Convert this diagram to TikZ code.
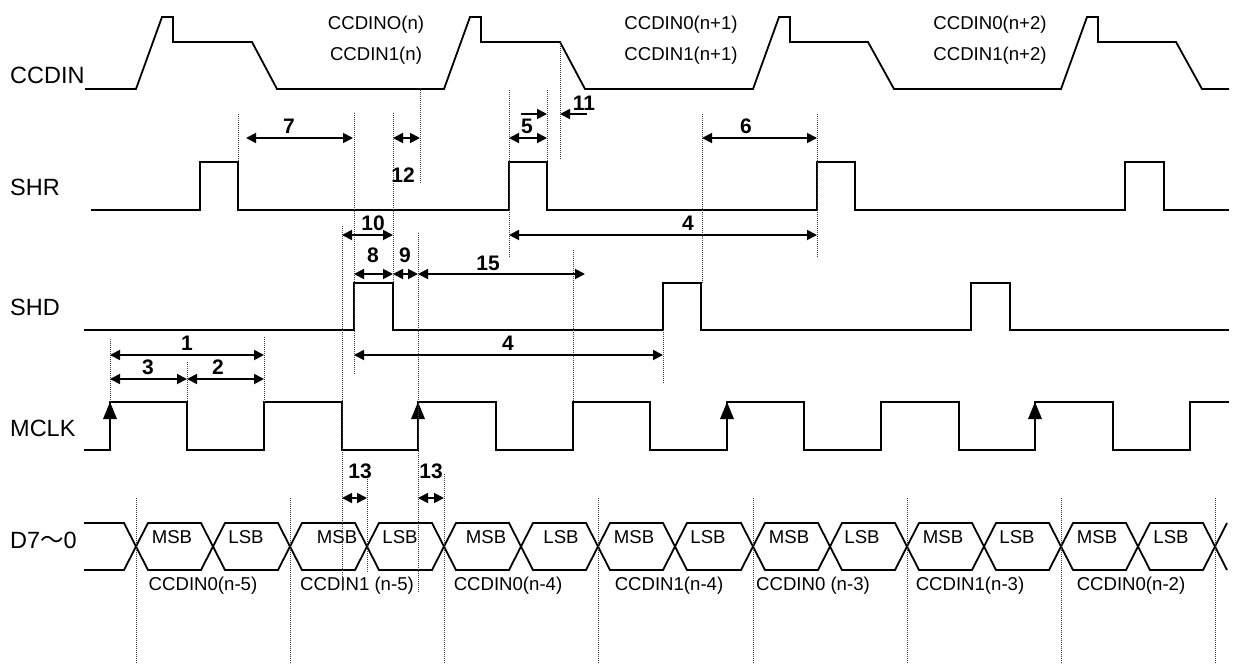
\documentclass[tikz,border=0pt]{standalone}
\usepackage{fontspec}
\setmainfont{Liberation Sans}
\newfontfamily\cjkfont{Noto Sans CJK SC}
\usetikzlibrary{arrows.meta}

\tikzset{
  wave/.style={line width=1.8pt, line join=miter},
  guide/.style={line width=0.7pt, dash pattern=on 1pt off 1pt, black!75},
  span/.style={line width=1.8pt, {Triangle[length=10pt,width=10pt]}-{Triangle[length=10pt,width=10pt]}},
  oneway/.style={line width=1.8pt, -{Triangle[length=10pt,width=10pt]}},
  signame/.style={font=\fontsize{23.5}{26}\selectfont, inner sep=0pt, anchor=base west},
  note/.style={font=\fontsize{18.6}{21}\selectfont, inner sep=0pt, anchor=base},
  num/.style={font=\fontsize{21}{24}\selectfont\bfseries, inner sep=0pt, anchor=base},
  edgemark/.style={fill=black}
}

\begin{document}
\begin{tikzpicture}[x=1pt,y=-1pt]
  \useasboundingbox (0,0) rectangle (1233,664);

  % signal names
  \node[signame] (ccdin) at (10,83.5) {CCDIN};
  \node[signame] (shr) at (10,195.5) {SHR};
  \node[signame] (shd) at (10,315.5) {SHD};
  \node[signame] (mclk) at (10,436.5) {MCLK};
  \node[signame] (dbus) at (10,548.5) {D7{\cjkfont ～}0};

  % CCDIN
  \draw[wave] (85,89) -- (136,89) -- (162,17) -- (173,17) -- (173,42) -- (252,42) -- (277,89)
    -- (444,89) -- (470,17) -- (481,17) -- (481,42) -- (560,42) -- (585,89)
    -- (753,89) -- (779,17) -- (790,17) -- (790,42) -- (868,42) -- (894,89)
    -- (1061,89) -- (1087,17) -- (1098,17) -- (1098,42) -- (1176,42) -- (1202,89) -- (1229,89);
  \node[note] (pix0a) at (376,29) {CCDINO(n)};
  \node[note] (pix1a) at (376,60) {CCDIN1(n)};
  \node[note] (pix0b) at (681,29) {CCDIN0(n+1)};
  \node[note] (pix1b) at (681,60) {CCDIN1(n+1)};
  \node[note] (pix0c) at (990,29) {CCDIN0(n+2)};
  \node[note] (pix1c) at (990,60) {CCDIN1(n+2)};

  % SHR
  \draw[wave] (91,210) -- (200,210) -- (200,162) -- (238,162) -- (238,210)
    -- (509,210) -- (509,162) -- (547,162) -- (547,210)
    -- (817,210) -- (817,162) -- (855,162) -- (855,210)
    -- (1125,210) -- (1125,162) -- (1164,162) -- (1164,210) -- (1229,210);

  % SHD
  \draw[wave] (84,330) -- (354,330) -- (354,283) -- (393,283) -- (393,330)
    -- (663,330) -- (663,283) -- (701,283) -- (701,330)
    -- (971,330) -- (971,283) -- (1010,283) -- (1010,330) -- (1229,330);

  % MCLK
  \draw[wave] (84,450) -- (110,450) -- (110,402) -- (187,402) -- (187,450)
    -- (264,450) -- (264,402) -- (342,402) -- (342,450)
    -- (418,450) -- (418,402) -- (496,402) -- (496,450)
    -- (573,450) -- (573,402) -- (650,402) -- (650,450)
    -- (727,450) -- (727,402) -- (804,402) -- (804,450)
    -- (881,450) -- (881,402) -- (959,402) -- (959,450)
    -- (1035,450) -- (1035,402) -- (1113,402) -- (1113,450)
    -- (1190,450) -- (1190,402) -- (1229,402);
  \fill[edgemark] (103,419) -- (110,402) -- (117,419) -- cycle;
  \fill[edgemark] (411,419) -- (418,402) -- (425,419) -- cycle;
  \fill[edgemark] (720,419) -- (727,402) -- (734,419) -- cycle;
  \fill[edgemark] (1028,419) -- (1035,402) -- (1042,419) -- cycle;

  % D7-0 bus
  \draw[wave] (84,523) -- (124,523) -- (148,570) -- (201,570) -- (225,523) -- (278,523) -- (302,570)
    -- (355,570) -- (379,523) -- (432,523) -- (456,570) -- (509,570) -- (533,523) -- (586,523)
    -- (610,570) -- (663,570) -- (687,523) -- (741,523) -- (765,570) -- (818,570) -- (842,523)
    -- (895,523) -- (919,570) -- (972,570) -- (996,523) -- (1049,523) -- (1073,570) -- (1126,570)
    -- (1150,523) -- (1203,523) -- (1227,570);
  \draw[wave] (84,570) -- (124,570) -- (148,523) -- (201,523) -- (225,570) -- (278,570) -- (302,523)
    -- (355,523) -- (379,570) -- (432,570) -- (456,523) -- (509,523) -- (533,570) -- (586,570)
    -- (610,523) -- (663,523) -- (687,570) -- (741,570) -- (765,523) -- (818,523) -- (842,570)
    -- (895,570) -- (919,523) -- (972,523) -- (996,570) -- (1049,570) -- (1073,523) -- (1126,523)
    -- (1150,570) -- (1203,570) -- (1227,523);
  \node[note] (w1) at (172,543) {MSB};
  \node[note] (w2) at (246,543) {LSB};
  \node[note] (w3) at (337,543) {MSB};
  \node[note] (w4) at (400,543) {LSB};
  \node[note] (w5) at (486,543) {MSB};
  \node[note] (w6) at (561,543) {LSB};
  \node[note] (w7) at (634,543) {MSB};
  \node[note] (w8) at (708,543) {LSB};
  \node[note] (w9) at (789,543) {MSB};
  \node[note] (w10) at (862,543) {LSB};
  \node[note] (w11) at (943,543) {MSB};
  \node[note] (w12) at (1017,543) {LSB};
  \node[note] (w13) at (1097,543) {MSB};
  \node[note] (w14) at (1171,543) {LSB};
  \node[note] (out1) at (203,590) {CCDIN0(n-5)};
  \node[note] (out2) at (357,590) {CCDIN1 (n-5)};
  \node[note] (out3) at (508,590) {CCDIN0(n-4)};
  \node[note] (out4) at (669,590) {CCDIN1(n-4)};
  \node[note] (out5) at (813,590) {CCDIN0 (n-3)};
  \node[note] (out6) at (970,590) {CCDIN1(n-3)};
  \node[note] (out7) at (1131,590) {CCDIN0(n-2)};

  % dotted guides
  \draw[guide] (238,114) -- (238,162);
  \draw[guide] (342,226) -- (342,592);
  \draw[guide] (354,113) -- (354,375);
  \draw[guide] (393,113) -- (393,283);
  \draw[guide] (420,88) -- (420,183);
  \draw[guide] (418,233) -- (418,592);
  \draw[guide] (509,90) -- (509,257);
  \draw[guide] (547,90) -- (547,162);
  \draw[guide] (560,42) -- (560,160);
  \draw[guide] (573,250) -- (573,402);
  \draw[guide] (663,330) -- (663,384);
  \draw[guide] (702,114) -- (702,283);
  \draw[guide] (817,114) -- (817,257);
  \draw[guide] (110,339) -- (110,402);
  \draw[guide] (187,362) -- (187,402);
  \draw[guide] (264,337) -- (264,402);
  \draw[guide] (367,479) -- (367,572);
  \draw[guide] (444,474) -- (444,664);
  \draw[guide] (136,498) -- (136,664);
  \draw[guide] (290,498) -- (290,664);
  \draw[guide] (598,498) -- (598,664);
  \draw[guide] (753,498) -- (753,664);
  \draw[guide] (907,498) -- (907,664);
  \draw[guide] (1061,498) -- (1061,664);
  \draw[guide] (1215,498) -- (1215,664);

  % timing parameters
  \draw[span] (246,138) -- (353,138);
  \node[num] (t7) at (289,133) {7};
  \draw[span] (393,138) -- (420,138);
  \node[num] (t12) at (403,182) {12};
  \draw[span] (509,138) -- (547,138);
  \draw[oneway] (521,114) -- (547,114);
  \node[num] (t5) at (527,133) {5};
  \draw[oneway] (587,114) -- (560,114);
  \node[num] (t11) at (584,110) {11};
  \draw[span] (702,138) -- (817,138);
  \node[num] (t6) at (746,133) {6};
  \draw[span] (342,235) -- (393,235);
  \node[num] (t10) at (373,230) {10};
  \draw[span] (509,235) -- (817,235);
  \node[num] (t4a) at (688,230) {4};
  \draw[span] (354,274) -- (393,274);
  \node[num] (t8) at (373,262) {8};
  \draw[span] (393,274) -- (418,274);
  \node[num] (t9) at (405,262) {9};
  \draw[span] (418,274) -- (585,274);
  \node[num] (t15) at (488,270) {15};
  \draw[span] (110,355) -- (264,355);
  \node[num] (t1) at (187,350) {1};
  \draw[span] (354,355) -- (663,355);
  \node[num] (t4b) at (508,350) {4};
  \draw[span] (110,379) -- (187,379);
  \node[num] (t3) at (148,374) {3};
  \draw[span] (187,379) -- (264,379);
  \node[num] (t2) at (218,374) {2};
  \draw[span] (342,498) -- (367,498);
  \node[num] (t13a) at (360,478) {13};
  \draw[span] (418,498) -- (444,498);
  \node[num] (t13b) at (431,478) {13};
\end{tikzpicture}
\end{document}
